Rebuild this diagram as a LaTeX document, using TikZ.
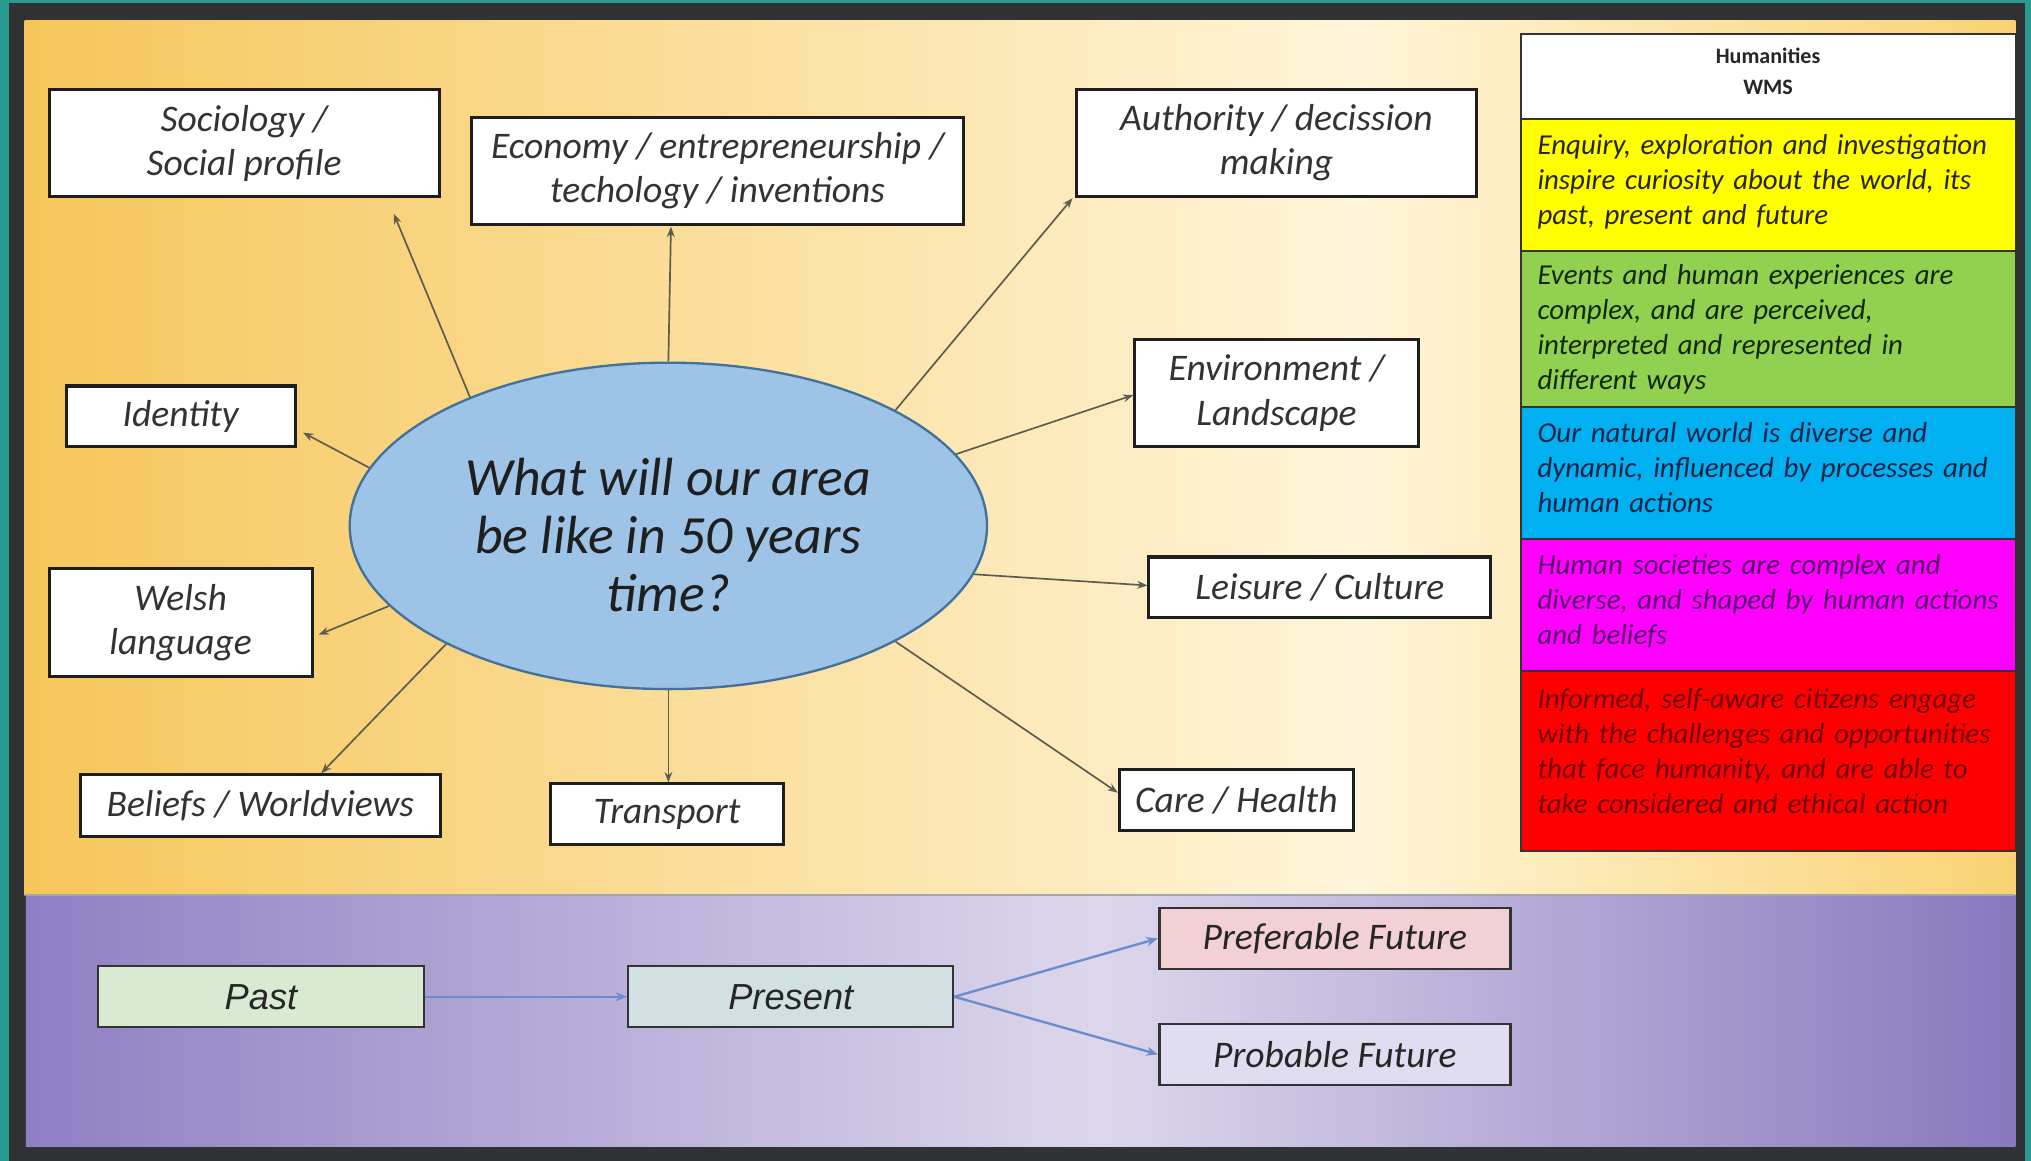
\documentclass[tikz,border=0pt]{standalone}
\usepackage{fontspec}
\setmainfont{Carlito}
\newfontfamily\arialfont{Liberation Sans}
\usetikzlibrary{shapes.geometric,arrows.meta}
\definecolor{tealbg}{HTML}{2A9A90}
\definecolor{darkframe}{HTML}{303233}
\definecolor{yelL}{HTML}{F6C65A}
\definecolor{yelM}{HTML}{FFF5DA}
\definecolor{yelR}{HTML}{F9D272}
\definecolor{purL}{HTML}{8F7FC4}
\definecolor{purM}{HTML}{DDD7EC}
\definecolor{purR}{HTML}{8878BE}
\definecolor{ellfill}{HTML}{9DC3E6}
\definecolor{elldraw}{HTML}{41719C}
\definecolor{connc}{HTML}{5C5C50}
\definecolor{bluearr}{HTML}{6A8BD0}
\definecolor{rowY}{HTML}{FFFF00}
\definecolor{rowG}{HTML}{92D050}
\definecolor{rowB}{HTML}{00B0F0}
\definecolor{rowM}{HTML}{FF00FF}
\definecolor{rowR}{HTML}{FF0000}
\definecolor{txtY}{HTML}{262610}
\definecolor{txtG}{HTML}{12280A}
\definecolor{txtB}{HTML}{0A2448}
\definecolor{txtM}{HTML}{55086A}
\definecolor{txtR}{HTML}{700000}
\definecolor{pastc}{HTML}{D9EAD3}
\definecolor{presc}{HTML}{D0E0E3}
\definecolor{prefc}{HTML}{F2D0D5}
\definecolor{probc}{HTML}{E1DDF0}
\definecolor{boxline}{HTML}{1E1E1E}
\newcommand{\rowtext}[2]{\raisebox{#1}[\height][\depth]{\parbox{362pt}{\leftskip=3pt #2}}}
\begin{document}
\begin{tikzpicture}[x=1pt,y=-1pt,
  topicbox/.style={draw=boxline, line width=2.4pt, fill=white, align=center, inner sep=0pt,
    text=black!80, font=\itshape\fontsize{29}{34}\selectfont},
  conn/.style={draw=connc, line width=1.3pt, -{Stealth[length=8pt,width=6pt]}},
  trow/.style={draw=black!80, line width=1.4pt, minimum width=382pt, inner sep=0pt,
    text width=362pt, align=left, font=\itshape\fontsize{22.3}{27}\selectfont},
  timebox/.style={draw=black!80, line width=1.6pt, inner sep=0pt, align=center,
    minimum height=47pt, text=black!85},
  barrow/.style={draw=bluearr, line width=1.8pt, -{Stealth[length=9pt,width=7pt]}}
]
\useasboundingbox (0,0) rectangle (1568,896);
% frame and panels
\fill[tealbg] (0,0) rectangle (1568,896);
\fill[darkframe] (7,2) rectangle (1563,896);
\shade[left color=yelL, right color=yelM] (19,15.5) rectangle (1050,691);
\shade[left color=yelM, right color=yelR] (1049,15.5) rectangle (1556,691);
\shade[left color=purL, right color=purM] (20,691) rectangle (850,885.5);
\shade[left color=purM, right color=purR] (849,691) rectangle (1556,885.5);
\draw[black!35, line width=1.2pt] (19,691) -- (1556,691);

% central ellipse
\node[ellipse, draw=elldraw, line width=1.8pt, fill=ellfill, minimum width=492pt, minimum height=252pt,
  inner sep=0pt] (ell) at (516,406) {};
\node[align=center, inner sep=0pt, text=black!88, font=\itshape\fontsize{41.5}{45}\selectfont]
  (q) at (516,413) {What will our area\\be like in 50 years\\time?};

% topic boxes
\node[topicbox, minimum width=301pt, minimum height=83pt] (soc) at (188.5,110.5) {Sociology /\\Social profile};
\node[topicbox, minimum width=380pt, minimum height=82pt] (eco) at (554,132) {Economy / entrepreneurship /\\techology / inventions};
\node[topicbox, minimum width=309pt, minimum height=83pt] (auth) at (985.5,110.5) {Authority / decission\\making};
\node[topicbox, minimum width=177pt, minimum height=47pt] (iden) at (139.5,321.5) {Identity};
\node[topicbox, minimum width=219pt, minimum height=83pt] (env) at (985.5,303.5) {Environment /\\Landscape};
\node[topicbox, minimum width=203pt, minimum height=83pt] (wel) at (139.5,480.5) {Welsh\\language};
\node[topicbox, minimum width=264pt, minimum height=47pt] (lei) at (1019,453.5) {Leisure / Culture};
\node[topicbox, minimum width=278pt, minimum height=48pt] (bel) at (201,622) {Beliefs / Worldviews};
\node[topicbox, minimum width=180pt, minimum height=47pt] (tra) at (515,628.5) {Transport};
\node[topicbox, minimum width=181pt, minimum height=47pt] (care) at (954.5,617.5) {Care / Health};

% arrow tips
\coordinate (tSoc) at (304,165);
\coordinate (tEco) at (518,175);
\coordinate (tAuth) at (828,153);
\coordinate (tIden) at (234,334);
\coordinate (tEnv) at (875,305);
\coordinate (tLei) at (886,452);
\coordinate (tWel) at (246,490);
\coordinate (tBel) at (248,597);
\coordinate (tTra) at (516,604);
\coordinate (tCare) at (863,612);

\draw[conn] (ell.147) -- (tSoc);
\draw[conn] (ell.90) -- (tEco);
\draw[conn] (ell.27) -- (tAuth);
\draw[conn] (ell.169) -- (tIden);
\draw[conn] (ell.14) -- (tEnv);
\draw[conn] (ell.351) -- (tLei);
\draw[conn] (ell.196) -- (tWel);
\draw[conn] (ell.208) -- (tBel);
\draw[conn] (ell.270) -- (tTra);
\draw[conn] (ell.333) -- (tCare);

% table
\node[trow, fill=white, minimum height=66pt, align=center, text=black!85,
  font=\bfseries\fontsize{17}{24}\selectfont] (th) at (1365,59) {\raisebox{4pt}[\height][\depth]{\parbox{362pt}{\centering Humanities\\WMS}}};
\node[trow, fill=rowY, minimum height=102pt, text=txtY] (ty) at (1365,143)
  {\rowtext{3pt}{Enquiry, exploration and investigation\\inspire curiosity about the world, its\\past, present and future}};
\node[trow, fill=rowG, minimum height=120pt, text=txtG] (tg) at (1365,254)
  {\rowtext{0pt}{Events and human experiences are\\complex, and are perceived,\\interpreted and represented in\\different ways}};
\node[trow, fill=rowB, minimum height=102pt, text=txtB] (tb) at (1365,365)
  {\rowtext{4pt}{Our natural world is diverse and\\dynamic, influenced by processes and\\human actions}};
\node[trow, fill=rowM, minimum height=102pt, text=txtM] (tm) at (1365,467)
  {\rowtext{3pt}{Human societies are complex and\\diverse, and shaped by human actions\\and beliefs}};
\node[trow, fill=rowR, minimum height=139pt, text=txtR] (tr) at (1365,587.5)
  {\rowtext{8pt}{Informed, self-aware citizens engage\\with the challenges and opportunities\\that face humanity, and are able to\\take considered and ethical action}};

% timeline
\node[timebox, fill=pastc, minimum width=251pt, font=\arialfont\itshape\fontsize{28}{32}\selectfont] (past) at (201.5,769.5) {Past};
\node[timebox, fill=presc, minimum width=251pt, font=\arialfont\itshape\fontsize{28}{32}\selectfont] (pres) at (610.5,769.5) {Present};
\node[timebox, fill=prefc, minimum width=271pt, line width=2pt, font=\itshape\fontsize{29}{32}\selectfont] (pref) at (1030.5,724.5) {Preferable Future};
\node[timebox, fill=probc, minimum width=271pt, line width=2pt, font=\itshape\fontsize{29}{32}\selectfont] (prob) at (1030.5,814) {Probable Future};

\draw[barrow] (past) -- (pres);
\draw[barrow] (pres.east) -- (pref.west);
\draw[barrow] (pres.east) -- (prob.west);
\end{tikzpicture}
\end{document}
